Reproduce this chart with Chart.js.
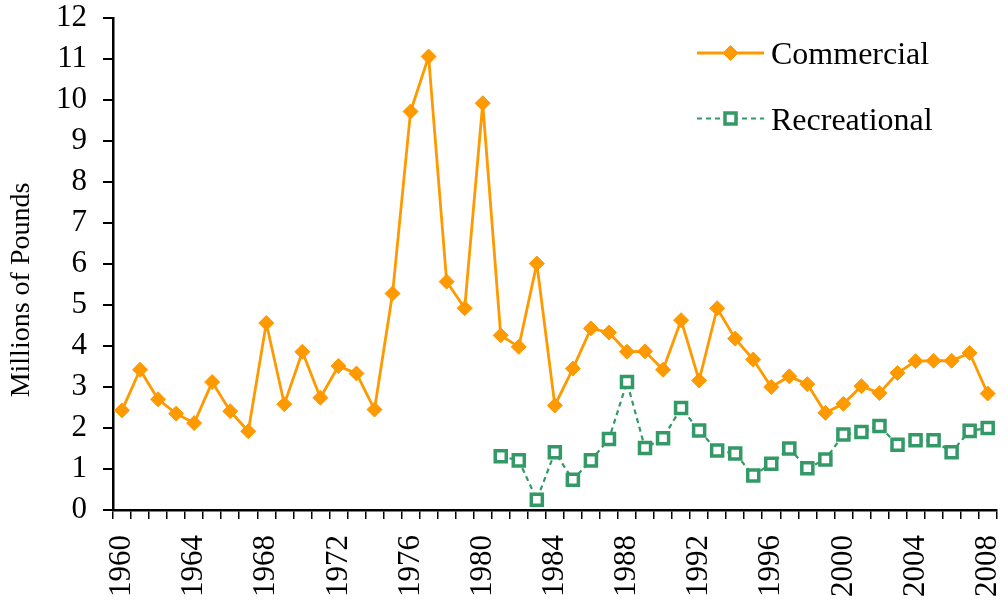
<!DOCTYPE html>
<html>
<head>
<meta charset="utf-8">
<script src="https://cdn.jsdelivr.net/npm/chart.js@4.4.1/dist/chart.umd.min.js"></script>
<style>
  html, body { margin: 0; padding: 0; background: #fff; }
  #wrap { width: 1008px; height: 608px; }
</style>
</head>
<body>
<div id="wrap"><canvas id="chart" width="1008" height="608"></canvas></div>
<script>
const years = [];
for (let y = 1960; y <= 2008; y++) years.push(String(y));

// millions of pounds
const commercial = [
  2.43, 3.42, 2.70, 2.35, 2.12, 3.12, 2.41, 1.92, 4.56, 2.58,
  3.86, 2.74, 3.51, 3.33, 2.45, 5.28, 9.72, 11.06, 5.57, 4.92,
  9.92, 4.26, 3.98, 6.01, 2.55, 3.45, 4.43, 4.33, 3.86, 3.87,
  3.42, 4.63, 3.16, 4.92, 4.18, 3.67, 3.00, 3.26, 3.07, 2.37,
  2.59, 3.02, 2.85, 3.34, 3.63, 3.64, 3.64, 3.83, 2.84
];
const recreational = [
  null, null, null, null, null, null, null, null, null, null,
  null, null, null, null, null, null, null, null, null, null,
  null, 1.31, 1.21, 0.25, 1.41, 0.74, 1.21, 1.73, 3.12, 1.51,
  1.75, 2.49, 1.94, 1.45, 1.38, 0.84, 1.13, 1.50, 1.02, 1.23,
  1.84, 1.90, 2.05, 1.59, 1.70, 1.70, 1.41, 1.93, 2.00
];

const ORANGE = "#FF9900";
const GREEN = "#339966";
const serif = "'Liberation Serif', 'Times New Roman', serif";

// legend + axis title drawn by hand so they sit where the original has them
const extras = {
  id: "extras",
  afterDraw(chart) {
    const ctx = chart.ctx;
    ctx.save();
    // y title
    ctx.save();
    ctx.translate(29, 290);
    ctx.rotate(-Math.PI / 2);
    ctx.fillStyle = "#000";
    ctx.font = "28px " + serif;
    ctx.textAlign = "center";
    ctx.textBaseline = "alphabetic";
    ctx.fillText("Millions of Pounds", 0, 0);
    ctx.restore();

    const rows = [
      { ds: chart.data.datasets[0], y: 53 },
      { ds: chart.data.datasets[1], y: 118.5 }
    ];
    rows.forEach(r => {
      const ds = r.ds;
      ctx.save();
      ctx.strokeStyle = ds.borderColor;
      ctx.lineWidth = ds.legendLineWidth;
      ctx.setLineDash(ds.borderDash || []);
      ctx.beginPath();
      ctx.moveTo(697, r.y);
      ctx.lineTo(764, r.y);
      ctx.stroke();
      ctx.setLineDash([]);
      ctx.fillStyle = ds.pointBackgroundColor;
      ctx.strokeStyle = ds.pointBorderColor;
      ctx.lineWidth = ds.pointBorderWidth;
      Chart.helpers.drawPoint(ctx, {
        pointStyle: ds.pointStyle, radius: ds.pointRadius,
        borderWidth: ds.pointBorderWidth, rotation: 0
      }, 730.5, r.y);
      ctx.fillStyle = "#000";
      ctx.font = "32px " + serif;
      ctx.textAlign = "left";
      ctx.textBaseline = "alphabetic";
      ctx.fillText(ds.label, 771, r.y + 11);
      ctx.restore();
    });
    ctx.restore();
  }
};

new Chart(document.getElementById("chart"), {
  type: "line",
  data: {
    labels: years,
    datasets: [
      {
        label: "Commercial",
        data: commercial,
        borderColor: ORANGE,
        borderWidth: 2.8,
        legendLineWidth: 2.8,
        pointStyle: "rectRot",
        pointRadius: 7.5,
        pointBackgroundColor: ORANGE,
        pointBorderColor: ORANGE,
        pointBorderWidth: 1,
        tension: 0
      },
      {
        label: "Recreational",
        data: recreational,
        borderColor: GREEN,
        borderWidth: 2.2,
        legendLineWidth: 2.2,
        borderDash: [5, 4],
        pointStyle: "rect",
        pointRadius: 7.8,
        pointBackgroundColor: "#fff",
        pointBorderColor: GREEN,
        pointBorderWidth: 3.5,
        spanGaps: false,
        tension: 0
      }
    ]
  },
  options: {
    responsive: false,
    animation: false,
    layout: { padding: { top: 18, right: 7, left: 0, bottom: 0 } },
    plugins: {
      legend: { display: false },
      tooltip: { enabled: false }
    },
    scales: {
      x: {
        offset: true,
        grid: {
          offset: true,
          drawOnChartArea: false,
          drawTicks: true,
          tickLength: 9,
          color: "#000",
          lineWidth: 1.5
        },
        border: { color: "#000", width: 2.5 },
        ticks: {
          autoSkip: false,
          maxRotation: 90,
          minRotation: 90,
          padding: 16,
          color: "#000",
          font: { family: serif, size: 31 },
          callback: function (v, i) { return i % 4 === 0 ? this.getLabelForValue(v) : ""; }
        },
        afterFit: s => { s.height = 98; s.paddingLeft = 0; s.paddingRight = 0; }
      },
      y: {
        min: 0,
        max: 12,
        grid: {
          drawOnChartArea: false,
          drawTicks: true,
          tickLength: 10,
          color: "#000",
          lineWidth: 2
        },
        border: { color: "#000", width: 2.5 },
        ticks: {
          stepSize: 1,
          autoSkip: false,
          padding: 16,
          color: "#000",
          font: { family: serif, size: 31 }
        },
        afterFit: s => { s.width = 113; s.paddingTop = 0; s.paddingBottom = 0; }
      }
    }
  },
  plugins: [extras]
});
</script>
</body>
</html>
